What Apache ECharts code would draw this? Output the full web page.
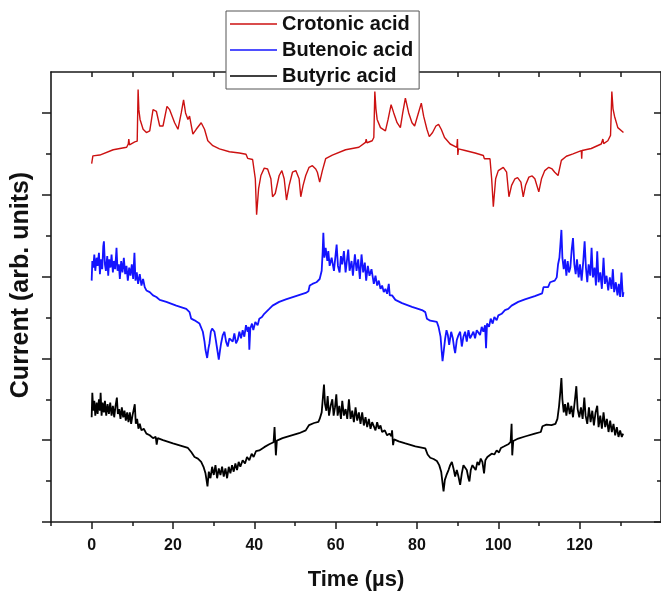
<!DOCTYPE html>
<html><head><meta charset="utf-8">
<script src="https://cdn.jsdelivr.net/npm/echarts@6/dist/echarts.min.js"></script>
<style>html,body{margin:0;padding:0;background:#fff}#c{width:661px;height:596px}</style>
</head><body><div id="c"></div>
<script>
const seriesNames = ['Crotonic acid', 'Butenoic acid', 'Butyric acid'];
const seriesColors = ['#cc1111', '#1414ff', '#000000'];

const crotonic = [
[0,8.76],[0.3,8.95],[0.6,8.92],[2.0,8.97],[5.3,9.10],[8.6,9.16],[9.0,9.24],[9.13,9.36],[9.3,9.22],[10.6,9.29],[11.2,9.31],[11.42,10.57],[11.6,10.08],[11.9,9.84],[12.65,9.60],[13.46,9.52],[14.28,9.56],[15.09,10.08],[15.5,10.05],[15.91,10.04],[16.73,9.68],[17.54,9.68],[18.52,10.16],[19.18,10.08],[20.40,9.76],[21.22,9.60],[22.03,10.00],[22.60,10.32],[23.09,10.00],[23.67,9.84],[24.07,9.92],[24.89,9.48],[25.71,9.60],[26.93,9.76],[27.75,9.60],[28.56,9.32],[29.79,9.20],[31.42,9.12],[33.87,9.05],[36.32,9.02],[37.95,8.99],[38.36,8.89],[39.58,8.86],[40.24,8.39],[40.56,7.51],[41.05,8.15],[41.62,8.47],[42.44,8.65],[43.26,8.63],[44.07,8.39],[44.48,7.95],[45.14,8.03],[46.11,8.47],[46.77,8.59],[47.34,8.39],[47.91,7.87],[48.56,8.23],[49.38,8.55],[50.20,8.59],[51.01,8.39],[51.42,7.95],[51.99,8.23],[52.64,8.47],[53.46,8.67],[54.28,8.71],[55.10,8.63],[55.50,8.55],[56.07,8.31],[56.73,8.59],[57.54,8.88],[59.18,8.97],[62.44,9.10],[65.71,9.16],[67.34,9.28],[67.51,9.36],[67.7,9.27],[68.98,9.32],[69.38,9.40],[69.63,10.52],[69.9,10.10],[70.20,9.84],[71.02,9.64],[72.24,9.56],[72.89,9.84],[73.63,10.20],[74.28,10.00],[75.10,9.76],[75.91,9.64],[76.49,10.00],[77.14,10.36],[77.96,10.00],[78.77,9.76],[79.42,9.68],[80.24,9.96],[81.06,10.24],[81.63,9.92],[82.44,9.60],[83.02,9.42],[83.83,9.52],[84.65,9.68],[85.30,9.72],[85.96,9.60],[86.77,9.40],[88.16,9.24],[89.79,9.16],[89.95,9.36],[90.04,8.97],[90.20,9.12],[90.61,9.12],[91.83,9.08],[94.28,9.02],[96.32,8.96],[96.57,8.88],[97.95,8.88],[98.36,8.39],[98.77,7.71],[99.34,8.39],[99.99,8.59],[101.22,8.67],[102.04,8.55],[102.61,7.95],[103.26,8.23],[104.08,8.39],[104.73,8.42],[105.55,8.31],[106.12,7.95],[106.69,8.23],[107.51,8.43],[108.32,8.46],[108.98,8.39],[109.95,8.07],[110.61,8.39],[111.42,8.59],[112.40,8.67],[113.22,8.63],[113.87,8.55],[114.69,8.47],[115.50,8.84],[116.73,8.94],[118.36,9.00],[120.40,9.08],[120.50,8.88],[120.60,9.08],[122.85,9.13],[125.30,9.24],[125.71,9.36],[125.9,9.25],[126.93,9.32],[127.59,9.45],[127.91,10.52],[128.2,10.10],[128.57,9.92],[129.38,9.64],[130.77,9.52]
];

const butenoic = [
[0.00,5.90],[0.16,6.38],[0.40,6.22],[0.65,6.54],[0.89,6.14],[1.22,6.46],[1.46,6.26],[1.79,6.58],[2.03,6.06],[2.28,6.42],[2.60,6.18],[2.85,6.74],[3.01,6.86],[3.26,6.30],[3.50,6.14],[3.83,6.50],[4.07,6.02],[4.32,6.42],[4.64,6.22],[4.89,6.54],[5.22,6.10],[5.46,6.38],[5.79,6.18],[6.11,6.70],[6.36,6.14],[6.69,6.30],[6.93,5.94],[7.26,6.38],[7.58,6.10],[7.91,6.46],[8.24,6.06],[8.56,6.26],[8.89,5.90],[9.22,6.22],[9.54,6.02],[9.87,6.30],[10.20,5.94],[10.52,6.58],[10.77,5.90],[11.09,6.10],[11.42,5.82],[11.83,6.06],[12.24,5.78],[12.64,5.94],[13.05,5.74],[13.46,5.66],[14.28,5.62],[15.09,5.54],[15.91,5.50],[16.73,5.43],[18.36,5.38],[20.81,5.29],[23.26,5.21],[24.07,5.13],[24.48,4.97],[25.30,4.93],[26.52,4.85],[27.34,4.65],[27.75,4.41],[27.99,4.21],[28.40,4.01],[28.73,4.25],[28.97,4.37],[29.30,4.65],[29.62,4.73],[30.20,4.65],[30.52,4.45],[30.77,4.29],[31.26,3.97],[31.58,4.21],[31.83,4.37],[32.24,4.57],[32.65,4.65],[33.05,4.41],[33.46,4.29],[33.87,4.49],[34.28,4.53],[34.69,4.41],[35.09,4.61],[35.50,4.37],[35.91,4.45],[36.32,4.65],[36.73,4.49],[37.13,4.69],[37.54,4.53],[37.95,4.81],[38.36,4.65],[38.60,4.77],[38.77,4.21],[39.01,4.73],[39.42,4.85],[39.75,4.69],[40.24,4.89],[40.81,4.81],[41.22,4.97],[41.87,5.01],[42.44,5.09],[42.85,5.13],[43.67,5.21],[44.48,5.29],[46.11,5.38],[47.75,5.44],[50.20,5.52],[52.64,5.60],[53.30,5.64],[53.62,5.78],[54.28,5.82],[55.26,5.86],[56.07,5.94],[56.56,6.14],[56.81,6.62],[56.97,7.07],[57.22,6.46],[57.54,6.70],[57.95,6.38],[58.19,6.62],[58.52,6.26],[59.01,6.46],[59.58,6.14],[59.99,6.54],[60.24,6.78],[60.56,6.26],[60.97,6.10],[61.30,6.50],[61.62,6.30],[62.03,6.62],[62.44,6.10],[62.85,6.46],[63.09,6.66],[63.42,6.14],[63.91,6.38],[64.24,6.02],[64.73,6.54],[65.13,6.14],[65.54,6.42],[65.95,5.94],[66.36,6.54],[66.76,6.10],[67.17,6.34],[67.50,5.90],[67.91,6.26],[68.32,6.02],[68.81,6.18],
[69.38,5.82],[69.79,6.02],[70.20,5.78],[70.61,5.90],[71.02,5.70],[71.42,5.78],[71.83,5.62],[72.24,5.70],[72.65,5.58],[73.06,5.82],[73.30,5.54],[73.87,5.54],[74.69,5.43],[76.32,5.35],[78.77,5.26],[81.22,5.18],[82.04,5.13],[82.44,4.97],[83.26,4.92],[84.89,4.89],[85.30,4.77],[85.79,4.53],[86.04,4.21],[86.28,3.93],[86.61,4.21],[86.93,4.49],[87.26,4.69],[87.59,4.57],[87.91,4.33],[88.40,4.65],[88.81,4.49],[89.14,4.25],[89.38,4.13],[89.79,4.45],[90.20,4.57],[90.61,4.65],[91.02,4.29],[91.42,4.53],[91.83,4.65],[92.24,4.41],[92.65,4.69],[93.06,4.49],[93.46,4.45],[93.87,4.65],[94.28,4.49],[94.69,4.69],[95.10,4.73],[95.51,4.57],[95.91,4.77],[96.32,4.65],[96.73,4.81],[96.98,4.25],[97.22,4.85],[97.71,4.77],[98.12,4.97],[98.61,4.85],[99.02,5.01],[99.59,4.93],[100.00,5.05],[100.81,5.09],[101.63,5.18],[102.44,5.21],[103.26,5.29],[104.89,5.38],[106.53,5.44],[108.97,5.52],[110.77,5.59],[111.10,5.74],[111.59,5.78],[112.24,5.74],[112.73,5.86],[113.87,5.90],[114.36,5.98],[114.69,6.30],[115.02,6.46],[115.26,6.78],[115.51,7.14],[115.75,6.46],[116.08,6.18],[116.40,6.42],[116.73,6.02],[117.06,6.38],[117.38,6.10],[117.71,6.22],[118.04,6.66],[118.36,6.94],[118.69,6.30],[119.02,6.06],[119.34,6.42],[119.75,5.98],[120.08,6.30],[120.48,5.90],[120.89,6.38],[121.22,6.86],[121.54,6.22],[121.87,5.86],[122.20,6.30],[122.61,6.02],[122.93,6.70],[123.26,5.98],[123.67,6.22],[124.00,5.78],[124.32,6.62],[124.65,5.86],[125.06,6.10],[125.46,5.70],[125.87,6.46],[126.20,5.82],[126.61,6.02],[127.02,5.66],[127.42,5.98],[127.83,5.70],[128.16,6.18],[128.48,5.62],[128.89,5.86],[129.30,5.54],[129.62,5.82],[129.95,5.50],[130.28,6.10],[130.61,5.50],[130.77,5.62]
];

const butyric = [
[0.00,2.56],[0.16,3.16],[0.40,2.72],[0.65,2.96],[0.89,2.60],[1.22,2.92],[1.46,2.64],[1.79,3.00],[2.03,2.72],[2.20,3.16],[2.44,2.60],[2.69,2.92],[3.01,2.68],[3.26,2.96],[3.58,2.60],[3.91,2.88],[4.24,2.64],[4.56,2.92],[4.89,2.60],[5.22,2.84],[5.54,2.56],[5.87,2.84],[6.20,3.04],[6.44,2.64],[6.77,2.76],[7.09,2.52],[7.42,2.80],[7.75,2.56],[8.07,2.72],[8.40,2.48],[8.73,2.68],[9.05,2.44],[9.38,2.68],[9.71,2.40],[10.03,2.60],[10.36,2.76],[10.60,2.88],[10.85,2.40],[11.18,2.52],[11.50,2.28],[11.83,2.40],[12.24,2.24],[12.81,2.28],[13.46,2.16],[14.28,2.12],[15.09,2.05],[15.75,2.08],[15.99,1.89],[16.24,2.05],[17.54,2.00],[19.99,1.92],[22.44,1.85],[23.67,1.81],[24.48,1.71],[25.30,1.59],[26.12,1.55],[26.93,1.47],[27.50,1.35],[27.99,1.19],[28.24,1.03],[28.48,0.87],[28.81,1.23],[29.22,1.07],[29.62,1.35],[30.03,1.15],[30.44,1.39],[30.85,1.07],[31.26,1.31],[31.67,1.15],[32.07,1.35],[32.48,1.11],[32.89,1.31],[33.30,1.07],[33.71,1.35],[34.11,1.19],[34.52,1.39],[34.93,1.23],[35.34,1.43],[35.75,1.27],[36.15,1.47],[36.56,1.35],[37.13,1.51],[37.71,1.43],[38.20,1.59],[38.77,1.51],[39.34,1.67],[39.83,1.59],[40.40,1.73],[41.22,1.75],[42.44,1.83],[43.67,1.90],[44.73,1.95],[44.97,2.32],[45.14,1.95],[45.30,1.63],[45.54,1.99],[46.93,2.05],[48.56,2.10],[51.01,2.17],[52.64,2.24],[53.46,2.37],[54.69,2.42],[55.75,2.45],[56.07,2.52],[56.56,2.68],[56.89,3.08],[57.13,3.36],[57.38,2.88],[57.71,2.72],[58.03,3.08],[58.36,2.60],[58.77,2.84],[59.18,3.00],[59.50,2.60],[59.83,2.80],[60.16,3.12],[60.48,2.60],[60.89,2.84],[61.30,2.52],[61.62,2.96],[62.03,2.60],[62.44,2.76],[62.85,2.52],[63.26,3.00],[63.67,2.52],[64.07,2.72],[64.48,2.44],[64.89,2.80],[65.30,2.48],[65.71,2.68],[66.11,2.40],[66.52,2.68],[66.93,2.36],[67.34,2.56],[67.75,2.32],[68.16,2.52],[68.57,2.28],[68.97,2.44],
[69.38,2.40],[69.79,2.24],[70.20,2.44],[70.61,2.28],[71.02,2.36],[71.42,2.20],[72.08,2.24],[72.65,2.12],[73.22,2.16],[73.71,2.10],[73.87,2.24],[74.12,1.88],[74.36,2.02],[75.51,1.97],[77.14,1.92],[79.59,1.85],[82.04,1.80],[82.61,1.65],[83.26,1.57],[84.08,1.54],[84.89,1.49],[85.46,1.39],[85.95,1.23],[86.28,0.95],[86.53,0.75],[86.85,1.03],[87.26,1.15],[87.75,1.27],[88.16,1.39],[88.57,1.47],[88.97,1.31],[89.38,1.11],[89.79,1.27],[90.20,1.11],[90.61,0.91],[91.02,1.19],[91.42,1.39],[91.83,1.43],[92.24,1.27],[92.65,1.07],[92.89,0.99],[93.22,1.27],[93.63,1.39],[94.04,1.43],[94.44,1.27],[94.85,1.47],[95.26,1.39],[95.67,1.55],[96.08,1.47],[96.49,1.19],[96.81,1.51],[97.30,1.59],[97.79,1.55],[98.36,1.67],[99.02,1.65],[99.59,1.75],[100.16,1.70],[100.65,1.81],[101.46,1.85],[102.44,1.90],[103.02,1.96],[103.26,2.40],[103.42,1.63],[103.67,1.98],[104.89,2.04],[106.53,2.09],[108.97,2.16],[110.44,2.20],[110.85,2.34],[111.83,2.38],[113.06,2.37],[114.04,2.40],[114.53,2.52],[114.94,2.84],[115.26,3.20],[115.51,3.52],[115.75,3.00],[116.08,2.68],[116.40,2.88],[116.73,2.60],[117.14,2.92],[117.55,2.64],[117.95,2.84],[118.36,2.56],[118.85,3.00],[119.18,3.32],[119.50,2.76],[119.91,2.56],[120.32,2.80],[120.73,2.52],[121.14,3.04],[121.46,2.60],[121.87,2.40],[122.28,2.80],[122.69,2.44],[123.10,2.72],[123.50,2.36],[123.91,2.68],[124.32,2.84],[124.65,2.32],[125.06,2.60],[125.46,2.28],[125.87,2.68],[126.28,2.32],[126.69,2.52],[127.10,2.20],[127.50,2.48],[127.91,2.20],[128.32,2.40],[128.73,2.12],[129.14,2.32],[129.55,2.08],[129.95,2.24],[130.36,2.08],[130.69,2.16]
];

const xMajorTicks = [0, 20, 40, 60, 80, 100, 120];
const xMinorTicks = [-10, 10, 30, 50, 70, 90, 110, 130];
const xTopTicks = [0, 10, 20, 30, 40, 50, 60, 70, 80, 90, 100, 110, 120, 130];
const yMajorTicks = [0, 2, 4, 6, 8, 10];
const yMinorTicks = [1, 3, 5, 7, 9];

const FONT = '"Liberation Sans", Arial, sans-serif';
const AX = '#1a1a1a';
const lineSt = {color: AX, width: 1.6};
const tickSt = {color: AX, width: 1.5};

const chart = echarts.init(document.getElementById('c'), null, {renderer: 'canvas'});
const data = [crotonic, butenoic, butyric];

chart.setOption({
  animation: false,
  backgroundColor: '#ffffff',
  textStyle: {fontFamily: FONT},
  grid: {left: 51, top: 72, width: 612, height: 456, containLabel: false},
  legend: {
    data: seriesNames,
    orient: 'vertical',
    left: 226, top: 11,
    padding: [0, 6, 0, 4],
    itemGap: 0,
    itemWidth: 47, itemHeight: 1.5,
    icon: 'rect',
    backgroundColor: '#ffffff',
    borderColor: '#555555', borderWidth: 1,
    textStyle: {fontFamily: FONT, fontSize: 20, fontWeight: 'bold', color: '#111', lineHeight: 26}
  },
  xAxis: [
    {type: 'value', position: 'bottom', min: -10, max: 140, interval: 10,
     axisLine: {show: true, onZero: false, lineStyle: lineSt},
     axisTick: {show: true, length: 7, customValues: xMajorTicks, lineStyle: tickSt},
     axisLabel: {show: true, customValues: xMajorTicks, margin: 16, fontFamily: FONT, fontSize: 16, fontWeight: 'bold', color: '#111'},
     splitLine: {show: false},
     name: 'Time (µs)', nameLocation: 'middle', nameGap: 47,
     nameTextStyle: {fontFamily: FONT, fontSize: 22, fontWeight: 'bold', color: '#111'}},
    {type: 'value', position: 'bottom', min: -10, max: 140, interval: 10,
     axisLine: {show: false, onZero: false},
     axisTick: {show: true, length: 4, customValues: xMinorTicks, lineStyle: tickSt},
     axisLabel: {show: false}, splitLine: {show: false}},
    {type: 'value', position: 'top', min: -10, max: 140, interval: 10,
     axisLine: {show: true, onZero: false, lineStyle: lineSt},
     axisTick: {show: true, inside: true, length: 5, customValues: xTopTicks, lineStyle: tickSt},
     axisLabel: {show: false}, splitLine: {show: false}}
  ],
  yAxis: [
    {type: 'value', position: 'left', min: 0, max: 11, interval: 1,
     axisLine: {show: true, onZero: false, lineStyle: lineSt},
     axisTick: {show: true, length: 9, customValues: yMajorTicks, lineStyle: tickSt},
     axisLabel: {show: false}, splitLine: {show: false},
     name: 'Current (arb. units)', nameLocation: 'middle', nameGap: 17,
     nameTextStyle: {fontFamily: FONT, fontSize: 25, fontWeight: 'bold', color: '#111', padding: [0, 0, 0, 24]}},
    {type: 'value', position: 'left', min: 0, max: 11, interval: 1,
     axisLine: {show: false, onZero: false},
     axisTick: {show: true, length: 5, customValues: yMinorTicks, lineStyle: tickSt},
     axisLabel: {show: false}, splitLine: {show: false}},
    {type: 'value', position: 'right', min: 0, max: 11, interval: 1,
     axisLine: {show: true, onZero: false, lineStyle: lineSt},
     axisTick: {show: true, inside: true, length: 7, customValues: yMajorTicks, lineStyle: tickSt},
     axisLabel: {show: false}, splitLine: {show: false}},
    {type: 'value', position: 'right', min: 0, max: 11, interval: 1,
     axisLine: {show: false, onZero: false},
     axisTick: {show: true, inside: true, length: 4, customValues: yMinorTicks, lineStyle: tickSt},
     axisLabel: {show: false}, splitLine: {show: false}}
  ],
  series: seriesNames.map((n, i) => ({
    name: n, type: 'line', xAxisIndex: 0, yAxisIndex: 0,
    data: data[i], showSymbol: false, symbol: 'none',
    color: seriesColors[i],
    lineStyle: {color: seriesColors[i], width: i === 0 ? 1.4 : 1.8},
    z: 3 - i
  }))
});
</script></body></html>
